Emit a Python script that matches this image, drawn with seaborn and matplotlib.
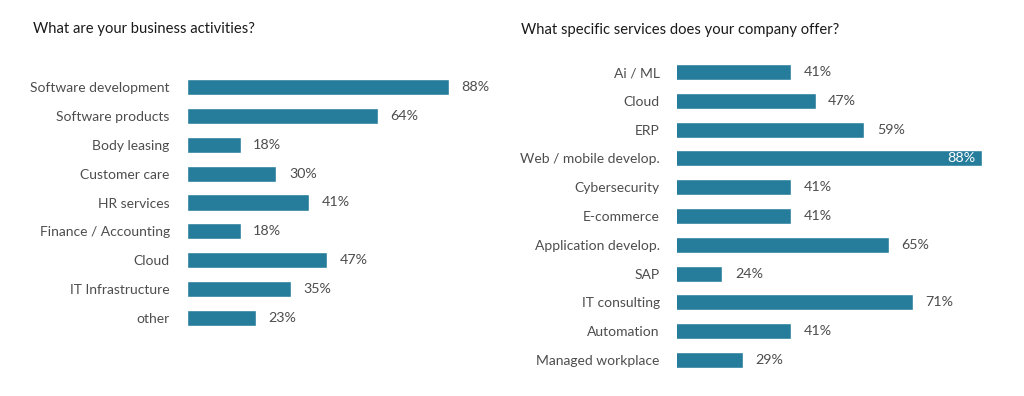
import matplotlib
matplotlib.use("Agg")
import matplotlib.pyplot as plt
import seaborn as sns
import pandas as pd

sns.set_theme(style="white")
plt.rcParams['font.family'] = ['Lato', 'DejaVu Sans']

left_title = "What are your business activities?"
left_cats = ["Software development", "Software products", "Body leasing", "Customer care",
             "HR services", "Finance / Accounting", "Cloud", "IT Infrastructure", "other"]
left_vals = [88, 64, 18, 30, 41, 18, 47, 35, 23]

right_title = "What specific services does your company offer?"
right_cats = ["Ai / ML", "Cloud", "ERP", "Web / mobile develop.", "Cybersecurity", "E-commerce",
              "Application develop.", "SAP", "IT consulting", "Automation", "Managed workplace"]
right_vals = [41, 47, 59, 88, 41, 41, 65, 24, 71, 41, 29]

BAR = "#267d9b"
TXT = "#4d4d4d"
TITLE = "#1a1a1a"

W, H = 1024, 396
fig = plt.figure(figsize=(W / 100, H / 100), dpi=100)


def px_axes(x0, x1, y_top, y_bot):
    return fig.add_axes([x0 / W, 1 - y_bot / H, (x1 - x0) / W, (y_bot - y_top) / H])


def draw(ax, cats, vals, xlim, inside=None):
    df = pd.DataFrame({"cat": cats, "val": vals})
    sns.barplot(data=df, x="val", y="cat", orient="h", color=BAR, width=0.56,
                saturation=1, ax=ax)
    ax.set_xlim(*xlim)
    ax.set_ylim(len(cats) - 0.5, -0.5)
    for s in ax.spines.values():
        s.set_visible(False)
    ax.set_xticks([])
    ax.set_xlabel("")
    ax.set_ylabel("")
    ax.tick_params(axis="y", left=False, length=0, pad=12.5, labelsize=10, labelcolor=TXT)
    labels = [("" if i == inside else f"{v}%") for i, v in enumerate(vals)]
    ax.bar_label(ax.containers[0], labels=labels, padding=9, fontsize=10.3, color=TXT)
    if inside is not None:
        ax.text(vals[inside] - 1.6, inside, f"{vals[inside]}%", ha="right", va="center",
                fontsize=10.3, color="white")


axL = px_axes(187, 485, 72.5, 332.5)
draw(axL, left_cats, left_vals, (0, 100))

axR = px_axes(677, 990, 57.6, 374.4)
draw(axR, right_cats, right_vals, (12.8, 90), inside=3)

fig.text(33 / W, 1 - 29 / H, left_title, fontsize=10.6, color=TITLE, va="center", ha="left")
fig.text(521 / W, 1 - 30 / H, right_title, fontsize=10.6, color=TITLE, va="center", ha="left")

fig.savefig("out.png", dpi=100, facecolor="white")
